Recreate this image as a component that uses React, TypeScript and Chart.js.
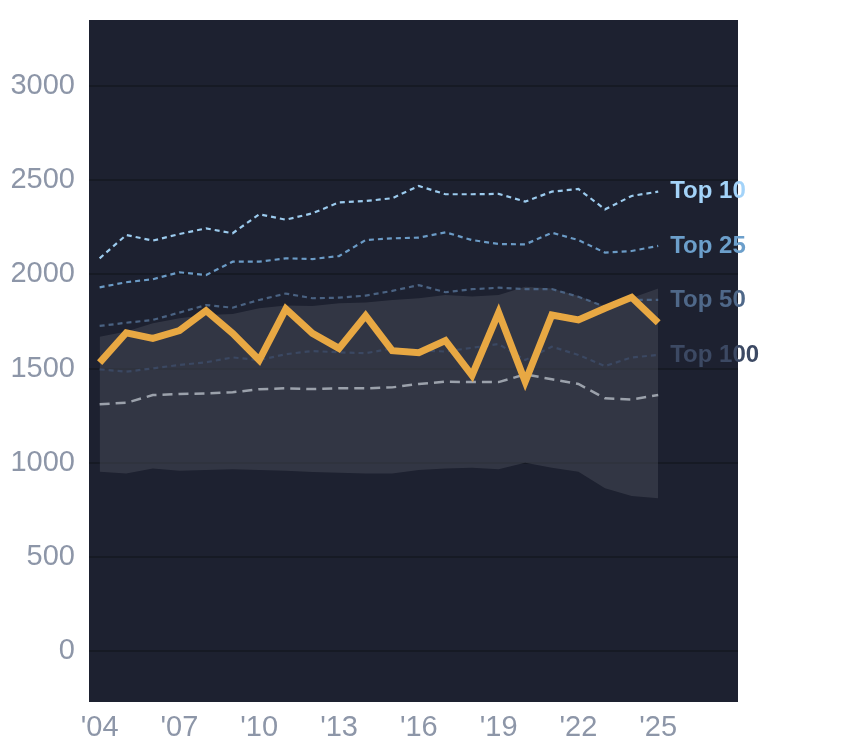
import { useEffect, useRef } from 'react'
import { Chart, registerables } from 'chart.js'

Chart.register(...registerables)

const years = [2004, 2005, 2006, 2007, 2008, 2009, 2010, 2011, 2012, 2013, 2014, 2015, 2016, 2017, 2018, 2019, 2020, 2021, 2022, 2023, 2024, 2025]

const top10 = [2085, 2209, 2179, 2214, 2244, 2218, 2319, 2290, 2324, 2382, 2389, 2404, 2469, 2425, 2425, 2427, 2386, 2439, 2453, 2345, 2416, 2439]
const top25 = [1931, 1958, 1974, 2011, 1996, 2067, 2067, 2085, 2081, 2097, 2182, 2191, 2195, 2223, 2182, 2161, 2159, 2221, 2182, 2115, 2124, 2151]
const top50 = [1726, 1743, 1758, 1797, 1837, 1823, 1864, 1898, 1873, 1876, 1887, 1912, 1943, 1905, 1921, 1929, 1922, 1922, 1881, 1828, 1864, 1864]
const top100 = [1496, 1483, 1501, 1519, 1533, 1559, 1545, 1576, 1593, 1586, 1581, 1607, 1597, 1590, 1610, 1630, 1545, 1616, 1572, 1513, 1559, 1572]
const median = [1311, 1318, 1359, 1365, 1368, 1374, 1390, 1395, 1391, 1395, 1395, 1400, 1418, 1430, 1428, 1428, 1469, 1443, 1418, 1342, 1336, 1359]
const player = [1531, 1690, 1660, 1701, 1807, 1687, 1545, 1816, 1687, 1607, 1781, 1595, 1584, 1648, 1464, 1797, 1430, 1784, 1758, 1820, 1878, 1743]
const bandHigh = [1669, 1696, 1740, 1767, 1784, 1790, 1820, 1835, 1832, 1846, 1851, 1864, 1873, 1890, 1883, 1890, 1934, 1925, 1885, 1830, 1875, 1925]
const bandLow = [952, 943, 970, 957, 961, 965, 961, 957, 951, 947, 943, 943, 961, 970, 973, 966, 1000, 973, 952, 864, 823, 811]

const yTicks = [0, 500, 1000, 1500, 2000, 2500, 3000]
const xTicks = [2004, 2007, 2010, 2013, 2016, 2019, 2022, 2025]

const tierLabels = ['Top 10', 'Top 25', 'Top 50', 'Top 100']
const tierLines = ['#9ccbee', '#6b9bc6', '#4a6282', '#3b4862']
const tierText = ['#a3d3f9', '#6c9fcb', '#4f6889', '#3c4963']

const toPoints = (vals: number[]) => vals.map((v, i) => ({ x: years[i], y: v }))

const tickFont = { family: 'Liberation Sans, Arial, sans-serif', size: 29 }

const plotBackground = {
  id: 'plotBackground',
  beforeDraw(chart: any) {
    const { ctx, chartArea } = chart
    ctx.save()
    ctx.fillStyle = '#1d2130'
    ctx.fillRect(chartArea.left, chartArea.top, chartArea.right - chartArea.left, chartArea.bottom - chartArea.top)
    ctx.restore()
  },
}

const endLabels = {
  id: 'endLabels',
  afterDraw(chart: any) {
    const { ctx, scales } = chart
    const tiers = [top10, top25, top50, top100]
    ctx.save()
    ctx.font = 'bold 24px Liberation Sans, Arial, sans-serif'
    ctx.textAlign = 'left'
    ctx.textBaseline = 'middle'
    tiers.forEach((vals, i) => {
      const last = vals.length - 1
      ctx.fillStyle = tierText[i]
      ctx.fillText(tierLabels[i], scales.x.getPixelForValue(years[last]) + 12, scales.y.getPixelForValue(vals[last]))
    })
    ctx.restore()
  },
}

export default function App() {
  const canvasRef = useRef<HTMLCanvasElement | null>(null)
  const chartRef = useRef<Chart | null>(null)

  useEffect(() => {
    document.body.style.margin = '0'
    if (!canvasRef.current) return
    if (chartRef.current) chartRef.current.destroy()

    const tierData = [top10, top25, top50, top100]
    const tierSets = tierData.map((vals, i) => ({
      label: tierLabels[i],
      data: toPoints(vals),
      borderColor: tierLines[i],
      borderWidth: 2.2,
      borderDash: [5, 4],
      pointRadius: 0,
      fill: false,
      order: 3,
    }))

    chartRef.current = new Chart(canvasRef.current, {
      type: 'line',
      data: {
        datasets: [
          {
            label: 'Player',
            data: toPoints(player),
            borderColor: '#e8a843',
            borderWidth: 7,
            pointRadius: 0,
            fill: false,
            order: 0,
          },
          ...tierSets,
          {
            label: 'Median',
            data: toPoints(median),
            borderColor: '#9ba1ab',
            borderWidth: 2.5,
            borderDash: [10, 6],
            pointRadius: 0,
            fill: false,
            order: 2,
          },
          {
            label: 'Band low',
            data: toPoints(bandLow),
            borderWidth: 0,
            borderColor: 'rgba(0,0,0,0)',
            pointRadius: 0,
            fill: false,
            order: 10,
          },
          {
            label: 'Band high',
            data: toPoints(bandHigh),
            borderWidth: 0,
            borderColor: 'rgba(0,0,0,0)',
            backgroundColor: 'rgba(71,75,88,0.5)',
            pointRadius: 0,
            fill: '-1',
            order: 9,
          },
        ],
      },
      options: {
        animation: false,
        responsive: true,
        maintainAspectRatio: false,
        layout: { padding: { top: 20, right: 106, left: 0, bottom: 0 } },
        plugins: {
          legend: { display: false },
          tooltip: { enabled: false },
        },
        scales: {
          x: {
            type: 'linear',
            min: 2003.6,
            max: 2028,
            grid: { display: false },
            border: { display: false },
            afterBuildTicks: (scale: any) => {
              scale.ticks = xTicks.map(v => ({ value: v }))
            },
            afterFit: (scale: any) => {
              scale.height = 46
              scale.paddingLeft = 0
              scale.paddingRight = 0
            },
            ticks: {
              autoSkip: false,
              maxRotation: 0,
              padding: 1,
              color: '#8d96a8',
              font: tickFont,
              callback: (v: any) => "'" + String(v).slice(2),
            },
          },
          y: {
            min: -270,
            max: 3350,
            border: { display: false },
            grid: { color: '#161a24', lineWidth: 2, drawTicks: false },
            afterBuildTicks: (scale: any) => {
              scale.ticks = yTicks.map(v => ({ value: v }))
            },
            afterFit: (scale: any) => {
              scale.width = 89
              scale.paddingTop = 0
              scale.paddingBottom = 0
            },
            ticks: {
              padding: 14,
              color: '#8d96a8',
              font: tickFont,
              callback: (v: any) => String(v),
            },
          },
        },
      },
      plugins: [plotBackground, endLabels],
    })

    return () => {
      if (chartRef.current) {
        chartRef.current.destroy()
        chartRef.current = null
      }
    }
  }, [])

  return (
    <div style={{ width: 844, height: 748, position: 'relative' }}>
      <canvas ref={canvasRef}></canvas>
    </div>
  )
}
